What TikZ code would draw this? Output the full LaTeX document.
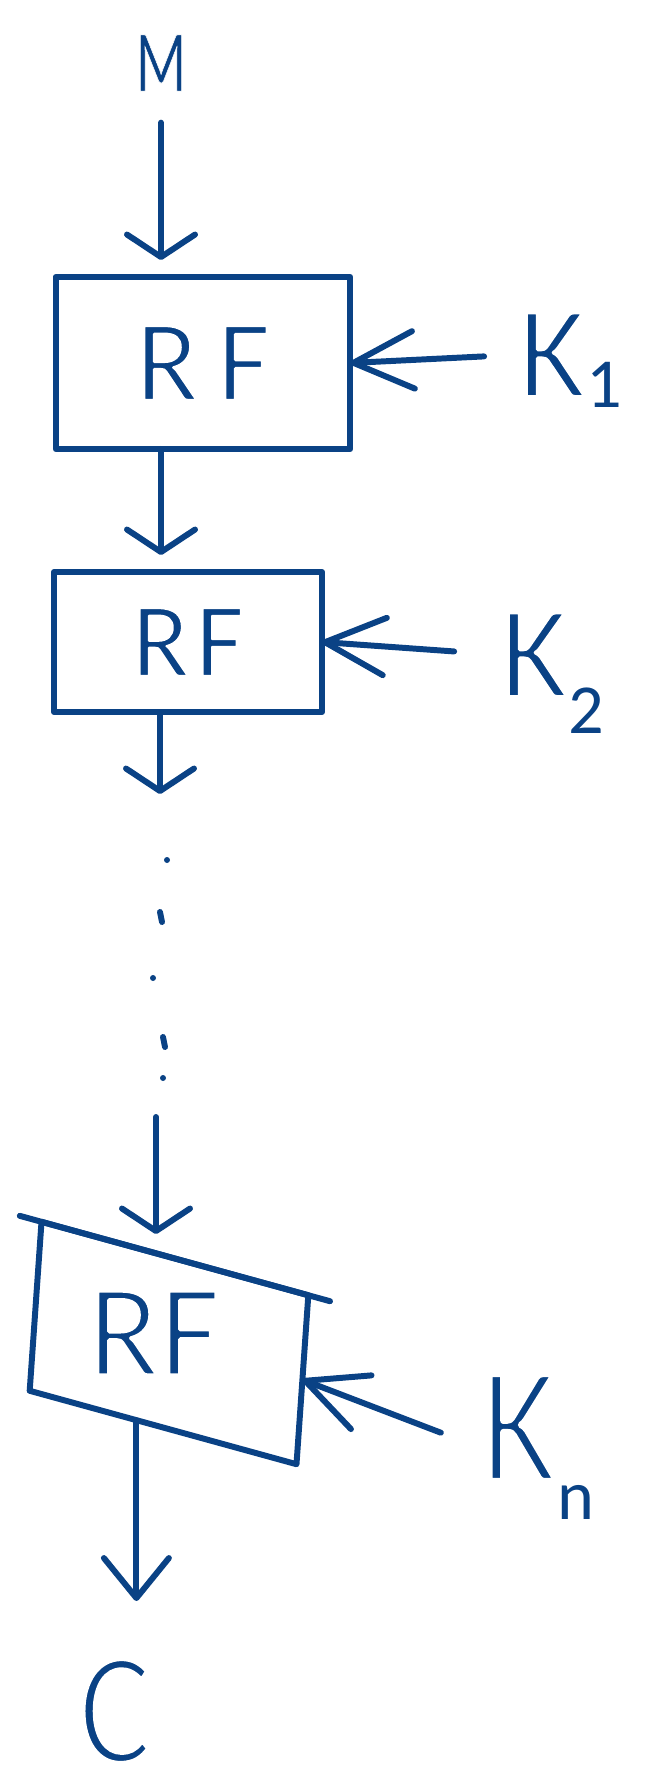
\documentclass[tikz,border=0pt]{standalone}
\usepackage{fontspec}
\setmainfont{Carlito}
\usetikzlibrary{arrows.meta,calc}
\definecolor{ink}{RGB}{10,66,133}
% lowered index after a key letter, with no height or depth of its own
\newcommand{\ksub}[2][17pt]{\raisebox{-#1}[0pt][0pt]{\fontsize{40}{40}\selectfont #2}}
% pen-weight letters: stroke the glyph edges in white to take #1 bp off the stems
\newcommand{\inkthin}[2]{\special{pdf:literal direct 2 Tr 1 1 1 RG 1 j #1 w}#2%
  \special{pdf:literal direct 0 Tr 0.039 0.259 0.522 RG 3.39 w}}

\begin{document}
\begin{tikzpicture}[x=0.02cm,y=-0.02cm,
    color=ink, line width=3.4pt, line cap=round, line join=round,
    every node/.style={inner sep=0pt, outer sep=0pt},
    rfbox/.style={draw, font=\fontsize{60}{60}\selectfont},
    keylbl/.style={anchor=base west, font=\fontsize{75}{75}\selectfont},
    flow/.style={-{Straight Barb[length=0.45cm,width=1.36cm,round]}},
    keyin/.style={-{Straight Barb[length=1.2cm,width=1.15cm,round]}}]
  \useasboundingbox (0,0) rectangle (645,1787);
  \draw
    (161,63) node[font=\fontsize{50}{50}\selectfont] (M){\scalebox{0.68}[1]{\inkthin{0.4}{M}}}
    (203,363) node[rfbox, minimum width=5.9cm, minimum height=3.44cm,
      font=\fontsize{66}{66}\selectfont] (rf1){\inkthin{1.5}{R\kern.16em F}}
    (188,642) node[rfbox, minimum width=5.36cm, minimum height=2.8cm] (rf2){\inkthin{1.1}{R\kern.06em F}}
    (154,1333) node[font=\fontsize{75}{75}\selectfont] (rf3txt){\inkthin{2.2}{RF}}
    (518,397) node[keylbl] (k1){\inkthin{2.2}{K}\ksub[6pt]{1}}
    (500,697) node[keylbl] (k2){\inkthin{2.2}{K}\ksub[21pt]{2}}
    (481,1481) node[keylbl, font=\fontsize{95}{95}\selectfont] (kn){\scalebox{0.88}[1]{\inkthin{3.6}{K}}\ksub[22pt]{n}}
    (115,1711) node[font=\fontsize{92}{92}\selectfont] (C){\scalebox{0.85}[1]{\inkthin{3.5}{C}}};
  % last round sits skewed
  \coordinate (rf3c) at (169,1343);
  \node[draw, minimum width=5.44cm, minimum height=3.38cm,
        xslant=0.07, yslant=-0.27, transform shape] (rf3) at (rf3c) {};
  \draw[shorten <=-0.45cm, shorten >=-0.45cm] (rf3.north west) -- (rf3.north east);
  \coordinate (rf3out) at ($(rf3.south west)!.4!(rf3.south east)$);
  % rounds left out
  \coordinate (gap) at (160,794);
  \coordinate (resume) at (156,1117);
  \foreach \x/\y in {167/860, 153/978, 163/1078}
    \fill (\x,\y) circle[radius=0.06cm];
  \foreach \x/\y in {160/912, 163/1037}
    \draw (\x,\y) -- ++(2,10);
  \begin{scope}[flow]
    \draw[shorten <=0.63cm, shorten >=0.34cm] (M) -- (M |- rf1.north);
    \draw[shorten >=0.34cm] (rf1.south -| M) -- (rf2.north -| M);
    \draw (rf2.south -| gap) -- (gap);
    \draw[shorten >=0.49cm] (resume) -- (resume |- rf3.north);
    \draw[-{Straight Barb[length=0.8cm,width=1.3cm,round]}, shorten >=1.14cm]
      (rf3out) -- (rf3out |- C.north);
  \end{scope}
  \begin{scope}[keyin]
    \draw[shorten <=0.68cm] (k1.west) -- (rf1.east);
    \draw[shorten <=0.92cm] (k2.west) -- (rf2.east);
    \draw[shorten <=0.86cm] (kn.-160) -- (rf3.east);
  \end{scope}
\end{tikzpicture}
\end{document}
